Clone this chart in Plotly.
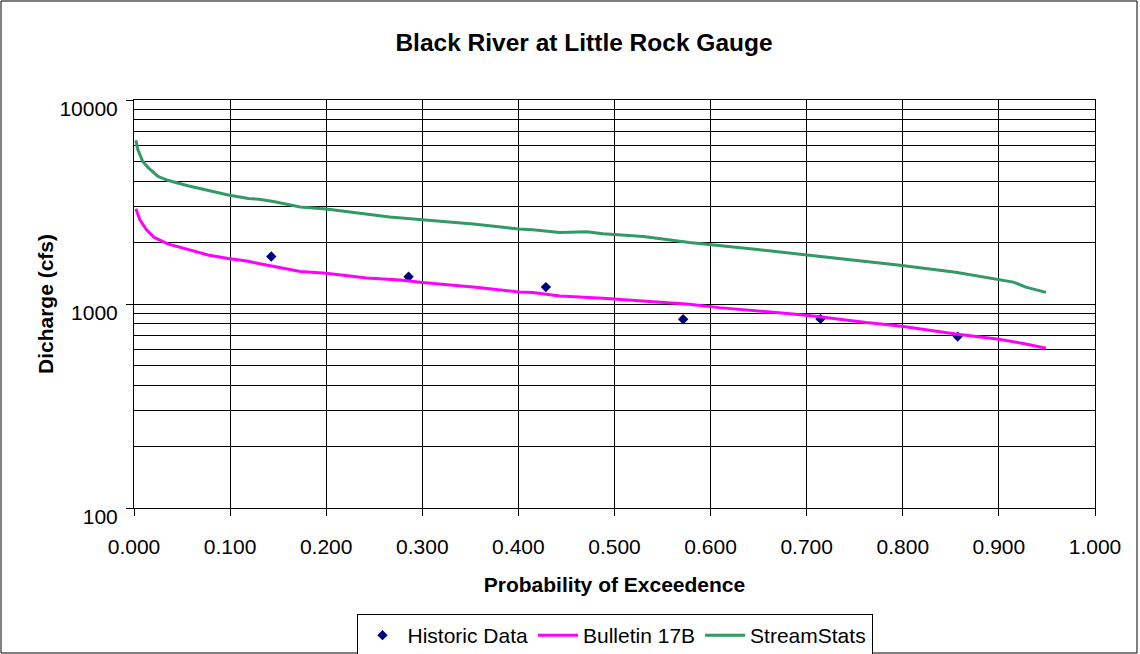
import plotly.graph_objects as go

# ---- data ----
hist_p = [1/7, 2/7, 3/7, 4/7, 5/7, 6/7]
hist_q = [1710, 1360, 1210, 842, 845, 692]

b17_p = [0.002, 0.006, 0.013, 0.021, 0.035, 0.056, 0.077, 0.098, 0.119, 0.131, 0.173, 0.200,
         0.242, 0.277, 0.300, 0.353, 0.400, 0.415, 0.443, 0.488, 0.530, 0.578, 0.609, 0.644,
         0.700, 0.762, 0.797, 0.855, 0.900, 0.928, 0.949]
b17_q = [2930, 2590, 2310, 2120, 1970, 1850, 1740, 1670, 1620, 1575, 1445, 1415,
         1340, 1310, 1275, 1210, 1146, 1138, 1096, 1068, 1035, 998, 960, 928,
         881, 811, 781, 713, 672, 637, 607]

ss_p = [0.002, 0.004, 0.009, 0.015, 0.025, 0.035, 0.056, 0.077, 0.098, 0.119, 0.130, 0.145,
        0.173, 0.200, 0.242, 0.266, 0.300, 0.353, 0.400, 0.415, 0.443, 0.471, 0.488, 0.530,
        0.578, 0.609, 0.644, 0.700, 0.741, 0.797, 0.855, 0.900, 0.915, 0.928, 0.949]
ss_q = [6350, 5710, 5000, 4650, 4220, 4040, 3800, 3590, 3420, 3290, 3260, 3180,
        2990, 2920, 2770, 2670, 2590, 2470, 2330, 2310, 2240, 2260, 2210, 2140,
        2000, 1940, 1860, 1740, 1660, 1550, 1430, 1320, 1280, 1210, 1140]

y_major = [100, 1000, 10000]
y_major_text = ["100", "1000", "10000"]
y_minor = [m * d for d in (100, 1000) for m in range(2, 10)]

FONT = "Arial, Liberation Sans, sans-serif"

fig = go.Figure()
fig.add_trace(go.Scatter(x=hist_p, y=hist_q, mode="markers", name="Historic Data",
                         marker=dict(symbol="diamond", size=8, color="#000080")))
fig.add_trace(go.Scatter(x=b17_p, y=b17_q, mode="lines", name="Bulletin 17B",
                         line=dict(color="#FF00FF", width=3)))
fig.add_trace(go.Scatter(x=ss_p, y=ss_q, mode="lines", name="StreamStats",
                         line=dict(color="#339966", width=3)))

L, R, T, B = 134, 45, 100, 146
W, H = 1140, 654
pw, ph = W - L - R, H - T - B

fig.update_layout(
    width=W, height=H,
    margin=dict(l=L, r=R, t=T, b=B, autoexpand=False),
    paper_bgcolor="white", plot_bgcolor="white",
    font=dict(family=FONT, size=20, color="black"),
    title=dict(text="<b>Black River at Little Rock Gauge</b>", x=584 / W, xanchor="center",
               y=1 - 42 / H, yanchor="middle", font=dict(size=24.5, family=FONT, color="black")),
    showlegend=True,
    legend=dict(orientation="h", x=0.5, xanchor="center",
                yref="container", y=1 - 614 / H, yanchor="top",
                bordercolor="black", borderwidth=1, font=dict(size=21, family=FONT),
                itemwidth=40, bgcolor="white", tracegroupgap=0),
    xaxis=dict(range=[0, 1], dtick=0.1, tick0=0, tickformat=".3f", automargin=False,
               showgrid=True, gridcolor="black", gridwidth=1,
               showline=True, linecolor="black", linewidth=1, mirror=True,
               ticks="outside", ticklen=7, tickcolor="black",
               tickfont=dict(size=21, family=FONT, color="black"),
               ticklabelstandoff=13,
               title=dict(text="<b>Probability of Exceedence</b>", standoff=20,
                          font=dict(size=21, family=FONT, color="black")),
               zeroline=False),
    yaxis=dict(type="log", range=[2, 4], tickvals=y_major, ticktext=y_major_text, automargin=False,
               showgrid=True, gridcolor="black", gridwidth=1,
               showline=True, linecolor="black", linewidth=1, mirror=True,
               ticks="outside", ticklen=7, tickcolor="black",
               tickfont=dict(size=21, family=FONT, color="black"),
               ticklabelshift=9, ticklabelstandoff=4,
               minor=dict(tickvals=y_minor, showgrid=True, gridcolor="black", gridwidth=1, ticklen=0),
               title=dict(text="<b>Dicharge (cfs)</b>", standoff=0,
                          font=dict(size=21, family=FONT, color="black")),
               zeroline=False),
)

# outer chart frame
fig.add_shape(type="rect", xref="paper", yref="paper",
              x0=(1 - L) / pw, x1=(1137 - L) / pw,
              y0=((H - B) - 653) / ph, y1=((H - B) - 1) / ph,
              line=dict(color="black", width=1), fillcolor="rgba(0,0,0,0)", layer="below")

fig.write_html("out.html")
